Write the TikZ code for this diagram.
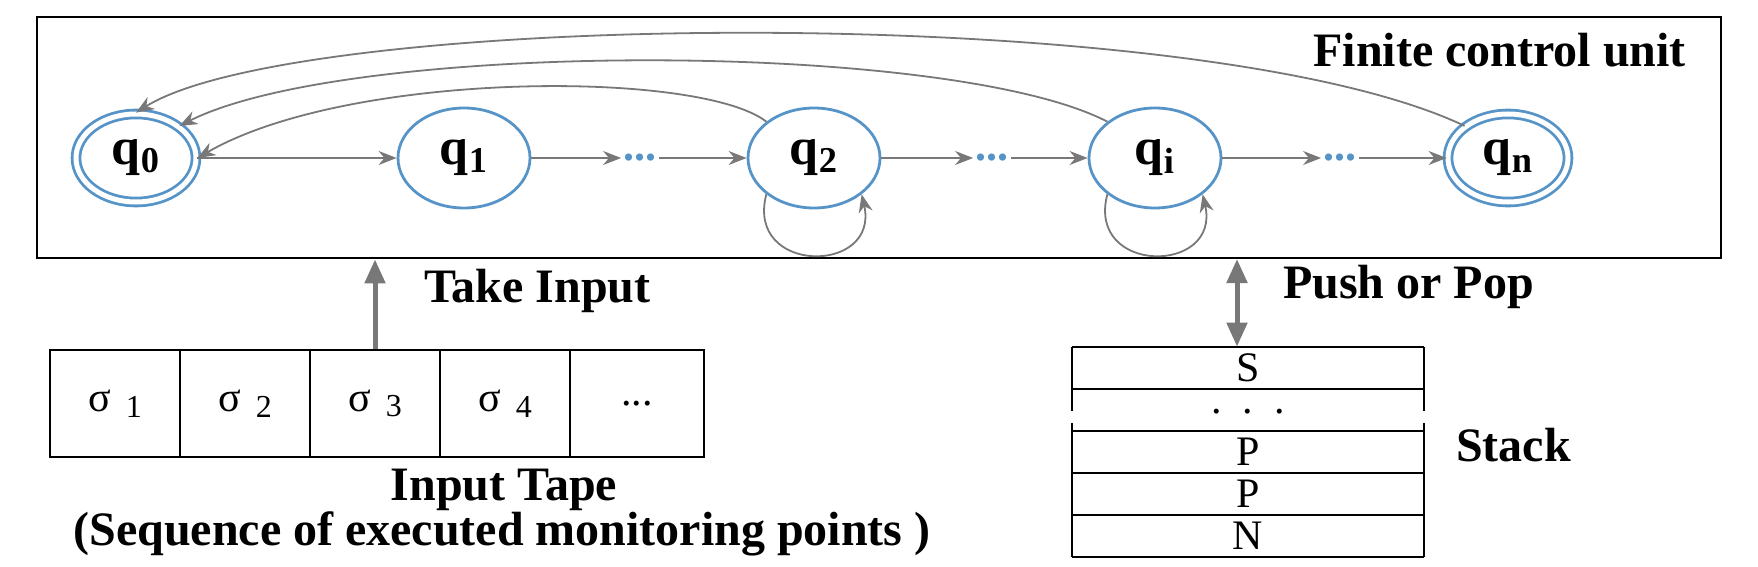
\documentclass[tikz,border=0pt]{standalone}
\usepackage{fontspec}
\setmainfont{Liberation Serif}
\usetikzlibrary{arrows.meta,shapes.geometric}
\definecolor{sb}{RGB}{86,148,200}
\definecolor{ag}{RGB}{120,120,120}
\begin{document}
\begin{tikzpicture}[x=0.5pt,y=-0.5pt,
 st/.style={ellipse,draw=sb,line width=1.4pt,inner sep=0,minimum width=66pt,minimum height=50pt,font=\fontsize{26}{30}\selectfont\bfseries},
 acc/.style={st,double=white,double distance=2.5pt},
 ar/.style={draw=ag,line width=0.9pt,-{Stealth[length=9pt,width=7pt]}},
 dt/.style={text=sb,inner sep=1pt,font=\fontsize{22}{26}\selectfont\bfseries},
 lbl/.style={font=\fontsize{24}{28}\selectfont\bfseries},
 cell/.style={draw,line width=1.1pt,minimum width=65pt,minimum height=53.5pt,inner sep=0,font=\fontsize{21}{24}\selectfont},
 scell/.style={minimum width=176pt,minimum height=21pt,inner sep=0,font=\fontsize{21}{24}\selectfont}]
\useasboundingbox (0,0) rectangle (1758,567);
\node[draw,line width=1.4pt,minimum width=842pt,minimum height=120.5pt,inner sep=0] (fcu) at (879,137.5) {};
\node[lbl,anchor=east] (fcl) at (1693,50) {Finite control unit};
\node[acc,minimum width=60pt,minimum height=44pt] (q0) at (136,158) {q\textsubscript{0}};
\node[st] (q1) at (464,158) {q\textsubscript{1}};
\node[dt] (d1) at (640,158) {...};
\node[st] (q2) at (814,158) {q\textsubscript{2}};
\node[dt] (d2) at (992,158) {...};
\node[st] (qi) at (1155,158) {q\textsubscript{i}};
\node[dt] (d3) at (1340,158) {...};
\node[acc,minimum width=60pt,minimum height=44pt] (qn) at (1508,158) {q\textsubscript{n}};
\draw[ar] (q0) -- (q1);
\draw[ar] (q1) -- (d1);
\draw[ar] (d1) -- (q2);
\draw[ar] (q2) -- (d2);
\draw[ar] (d2) -- (qi);
\draw[ar] (qi) -- (d3);
\draw[ar] (d3) -- (qn);
\draw[ar] (qn.north west) .. controls (1200,0) and (300,10) .. (q0.north);
\draw[ar] (qi.north west) .. controls (950,40) and (350,40) .. (q0.north east);
\draw[ar] (q2.north west) .. controls (700,70) and (350,70) .. (q0.east);
\draw[ar] (q2.south west) .. controls (745,275) and (880,275) .. (q2.south east);
\draw[ar] (qi.south west) .. controls (1086,275) and (1221,275) .. (qi.south east);
% tape
\node[cell] (t1) at (115,403.5) {σ\,\raisebox{-0.3ex}{\fontsize{16}{18}\selectfont\ 1}};
\node[cell] (t2) at (245,403.5) {σ\,\raisebox{-0.3ex}{\fontsize{16}{18}\selectfont\ 2}};
\node[cell] (t3) at (375,403.5) {σ\,\raisebox{-0.3ex}{\fontsize{16}{18}\selectfont\ 3}};
\node[cell] (t4) at (505,403.5) {σ\,\raisebox{-0.3ex}{\fontsize{16}{18}\selectfont\ 4}};
\node[cell,minimum width=67pt] (t5) at (637,403.5) {...};
\draw[draw=ag,line width=2.5pt,-{Triangle[length=12pt,width=10pt]}] (t3.north) -- (t3.north |- fcu.south);
\node[lbl,anchor=west] (ti) at (417,291) {Take Input};
\node[lbl] (it) at (504,490) {Input Tape};
\node[lbl] (seq) at (502,534) {(Sequence of executed monitoring points )};
% stack
\node[scell] (s1) at (1248,368) {S};
\node[scell] (s3) at (1248,452) {P};
\node[scell] (s4) at (1248,494) {P};
\node[scell] (s5) at (1248,536) {N};
\node[font=\fontsize{21}{24}\selectfont] (sd) at (1248,412) {.\ \ .\ \ .};
\draw[line width=1.1pt] (1072,347) -- (1424,347) (1072,389) -- (1424,389) (1072,431) -- (1424,431)
 (1072,473) -- (1424,473) (1072,515) -- (1424,515) (1072,557) -- (1424,557);
\draw[line width=1.1pt] (1072,347) -- (1072,411) (1424,347) -- (1424,411) (1072,423) -- (1072,557) (1424,423) -- (1424,557);
\coordinate (pt) at (1237,259);
\draw[draw=ag,line width=2.5pt,{Triangle[length=12pt,width=10pt]}-{Triangle[length=12pt,width=10pt]}] (s1.north -| pt) -- (pt);
\node[lbl,anchor=west] (pp) at (1276,287) {Push or Pop};
\node[lbl,anchor=west] (sk) at (1449,445) {Stack};
\end{tikzpicture}
\end{document}
